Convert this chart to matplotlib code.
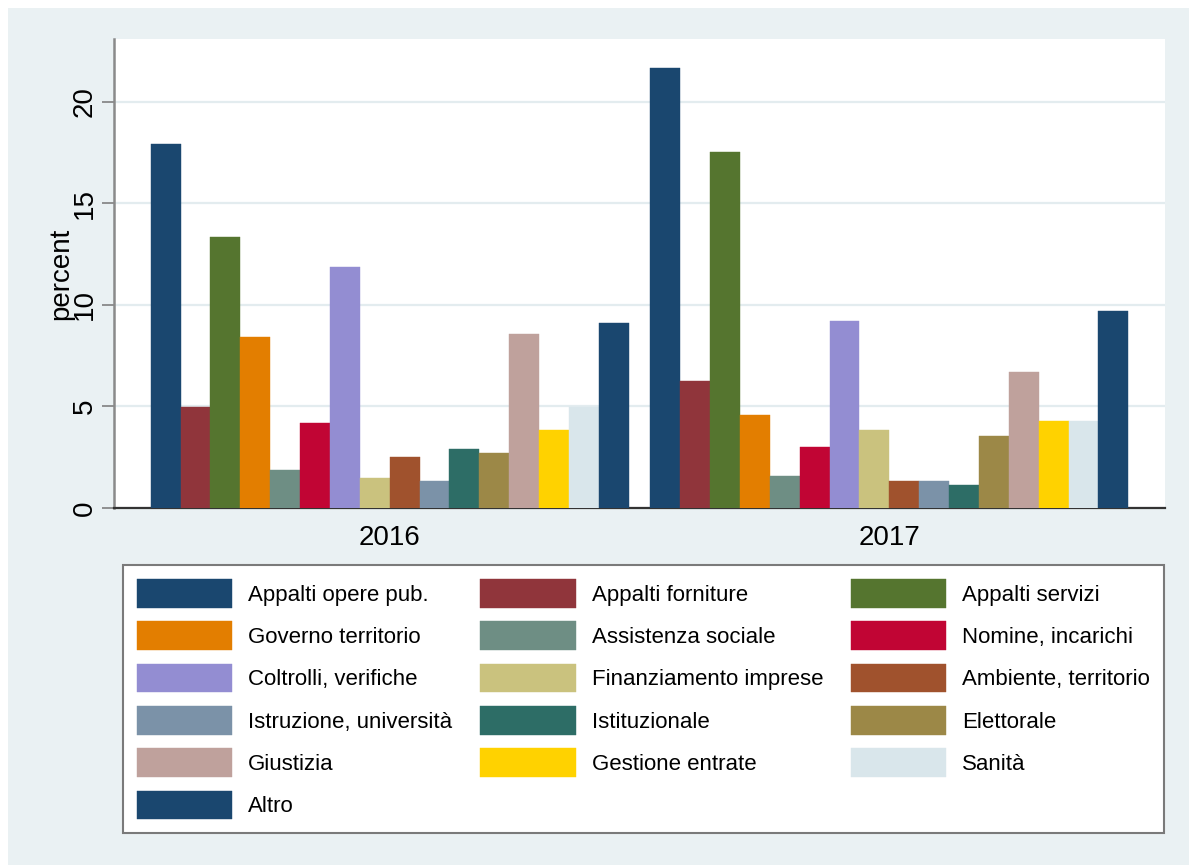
import matplotlib
matplotlib.use("Agg")
import matplotlib.pyplot as plt
from matplotlib.patches import Rectangle
import numpy as np

plt.rcParams['font.family'] = ['Liberation Sans', 'DejaVu Sans']

years = ['2016', '2017']
series = ['Appalti opere pub.', 'Appalti forniture', 'Appalti servizi',
          'Governo territorio', 'Assistenza sociale', 'Nomine, incarichi',
          'Coltrolli, verifiche', 'Finanziamento imprese', 'Ambiente, territorio',
          'Istruzione, università', 'Istituzionale', 'Elettorale',
          'Giustizia', 'Gestione entrate', 'Sanità', 'Altro']
values_2016 = [17.9, 4.97, 13.34, 8.41, 1.87, 4.19, 11.86, 1.50, 2.53, 1.31,
               2.92, 2.72, 8.58, 3.82, 4.97, 9.13]
values_2017 = [21.66, 6.24, 17.53, 4.58, 1.59, 3.0, 9.23, 3.82, 1.31, 1.31,
               1.13, 3.54, 6.70, 4.28, 4.28, 9.69]
colors = ['#1a476f', '#90353b', '#55752f', '#e37e00', '#6e8e84', '#c10534',
          '#938dd2', '#cac27e', '#a0522d', '#7b92a8', '#2d6d66', '#9c8847',
          '#bfa19c', '#ffd200', '#d9e6eb', '#1a476f']
yticks = [0, 5, 10, 15, 20]

W, H = 1189, 865
fig = plt.figure(figsize=(W / 100, H / 100), dpi=100)
fig.patch.set_facecolor('white')
bg = '#eaf1f3'
fig.patches.append(Rectangle((8 / W, 0), 1 - 8 / W, 1 - 8 / H, transform=fig.transFigure,
                             facecolor=bg, edgecolor='none', zorder=-10))

left, right, top, bottom = 114, 1165, 39, 508
ax = fig.add_axes([left / W, 1 - bottom / H, (right - left) / W, (bottom - top) / H])
ax.set_facecolor('white')

n = len(series)
gap = 0.726
group_w = n + gap
vals = np.array([values_2016, values_2017])
handles = []
for j in range(n):
    xs = [g * group_w + j for g in range(len(years))]
    b = ax.bar(xs, vals[:, j], width=1.0, color=colors[j], edgecolor=colors[j],
               linewidth=0.3, label=series[j], zorder=3)
    handles.append(b)

margin = 1.227
ax.set_xlim(-0.5 - margin, (len(years) - 1) * group_w + n - 0.5 + margin)
ax.set_ylim(0, 23.09)

ax.set_xticks([g * group_w + (n - 1) / 2 for g in range(len(years))])
ax.set_xticklabels(years, fontsize=20)
ax.tick_params(axis='x', length=0, pad=12)

ax.set_yticks(yticks)
ax.set_yticklabels([str(v) for v in yticks], fontsize=20, rotation=90, va='center')
ax.tick_params(axis='y', length=8.6, width=1.2, color='#808080', pad=3)

ax.grid(axis='y', color='#e3ecef', linewidth=1.6, zorder=0)
ax.set_axisbelow(True)
for s in ['top', 'right']:
    ax.spines[s].set_visible(False)
ax.spines['left'].set_color('#8a8a8a')
ax.spines['left'].set_linewidth(1.8)
ax.spines['bottom'].set_color('#333333')
ax.spines['bottom'].set_linewidth(1.6)

ax.set_ylabel('percent', fontsize=20)
ax.yaxis.label.set_verticalalignment('center')
ax.yaxis.set_label_coords((61 - left) / (right - left), 0.5)

order = [0, 3, 6, 9, 12, 15, 1, 4, 7, 10, 13, 2, 5, 8, 11, 14]
leg = fig.legend([handles[i] for i in order], [series[i] for i in order], ncol=3,
                 loc='upper left', bbox_to_anchor=(123 / W, 1 - 565 / H),
                 bbox_transform=fig.transFigure, borderaxespad=0, frameon=True,
                 fancybox=False, fontsize=16, handlelength=4.28, handleheight=1.6,
                 handletextpad=0.72, columnspacing=1.27, labelspacing=0.62,
                 borderpad=0.63)
leg.get_frame().set_edgecolor('#7a7a7a')
leg.get_frame().set_linewidth(1.5)
leg.get_frame().set_facecolor('white')
leg.get_frame().set_alpha(1)

fig.savefig('out.png', dpi=100, facecolor=fig.get_facecolor())
